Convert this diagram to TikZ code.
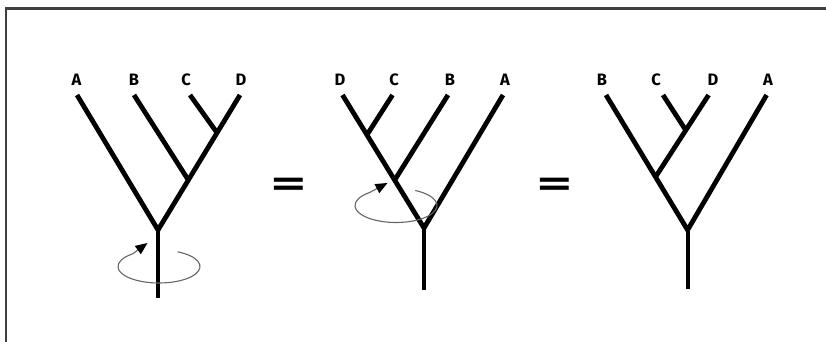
\documentclass[tikz,border=0pt]{standalone}
\usepackage{fontspec}
\setsansfont{Fira Sans}
\newfontfamily\eqfont{DejaVu Sans}
\usetikzlibrary{arrows.meta,calc}
\begin{document}
\begin{tikzpicture}[x=1pt,y=-1pt,
  branch/.style={line width=4.8pt, line cap=butt, line join=miter},
  stemline/.style={line width=4.2pt},
  lbl/.style={font=\sffamily\bfseries\fontsize{16.5}{16.5}\selectfont, inner sep=0pt, anchor=center},
  spin/.style={draw=black!60, line width=1.1pt, -{Triangle[length=12pt,width=10pt,fill=black,color=black]}},
  eqsign/.style={inner sep=0pt, font=\eqfont\bfseries\fontsize{36}{36}\selectfont}
]
\useasboundingbox (0,0) rectangle (826,342);
\draw[line width=2.5pt, black!75] (6,342) -- (6,8.5) -- (826,8.5);

% ---------- tree 1 ----------
\coordinate (a1) at (77,95);
\coordinate (b1) at (134,95);
\coordinate (c1) at (190,95);
\coordinate (d1) at (240,95);
\coordinate (r1) at (158,230);
\coordinate (s1) at (158,298);
\coordinate (cd1) at ($(d1)!0.28!(r1)$);
\coordinate (bcd1) at ($(d1)!0.63!(r1)$);
\draw[branch] (a1) -- (r1) -- (d1);
\draw[branch] (b1) -- (bcd1);
\draw[branch] (c1) -- (cd1);
\draw[stemline] (r1) -- (s1);
\node[lbl] (A1) at (76.5,80) {A};
\node[lbl] (B1) at (134,80) {B};
\node[lbl] (C1) at (186,80) {C};
\node[lbl] (D1) at (241,80) {D};
\coordinate (e1) at (159,266.5);
\coordinate (t1) at (147.5,243);
\draw[spin] ($(e1)+(-63:41 and 16.5)$) arc[start angle=-63, end angle=230, x radius=41, y radius=16.5] -- (t1);

% ---------- equals ----------
\node[eqsign] (eq1) at (288.5,187) {\scalebox{1.28}[1]{=}};

% ---------- tree 2 ----------
\coordinate (d2) at (342.5,95);
\coordinate (c2) at (392.5,95);
\coordinate (b2) at (448,95);
\coordinate (a2) at (503,95);
\coordinate (r2) at (424,228);
\coordinate (s2) at (424,290);
\coordinate (dc2) at ($(d2)!0.30!(r2)$);
\coordinate (dcb2) at ($(d2)!0.64!(r2)$);
\draw[branch] (d2) -- (r2) -- (a2);
\draw[branch] (c2) -- (dc2);
\draw[branch] (b2) -- (dcb2);
\draw[stemline] (r2) -- (s2);
\node[lbl] (D2) at (340,80) {D};
\node[lbl] (C2) at (394,80) {C};
\node[lbl] (B2) at (450,80) {B};
\node[lbl] (A2) at (505,80) {A};
\coordinate (e2) at (396,205.5);
\coordinate (t2) at (387.5,183);
\draw[spin] ($(e2)+(-62:41 and 17)$) arc[start angle=-62, end angle=230, x radius=41, y radius=17] -- (t2);

% ---------- equals ----------
\node[eqsign] (eq2) at (554.5,187) {\scalebox{1.28}[1]{=}};

% ---------- tree 3 ----------
\coordinate (b3) at (606,95);
\coordinate (c3) at (663,95);
\coordinate (d3) at (708.6,95);
\coordinate (a3) at (766.6,95);
\coordinate (r3) at (687.6,230);
\coordinate (s3) at (687.6,289);
\coordinate (bcd3) at ($(b3)!0.607!(r3)$);
\coordinate (cd3) at ($(d3)!0.43!(bcd3)$);
\draw[branch] (b3) -- (r3) -- (a3);
\draw[branch] (d3) -- (bcd3);
\draw[branch] (c3) -- (cd3);
\draw[stemline] (r3) -- (s3);
\node[lbl] (B3) at (602,80) {B};
\node[lbl] (C3) at (656,80) {C};
\node[lbl] (D3) at (713,80) {D};
\node[lbl] (A3) at (768,80) {A};
\end{tikzpicture}
\end{document}
